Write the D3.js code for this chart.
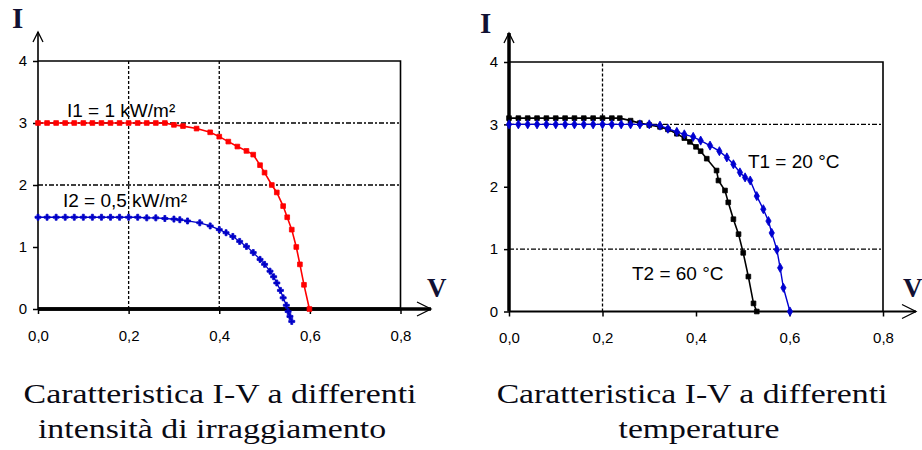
<!DOCTYPE html>
<html>
<head>
<meta charset="utf-8">
<script src="https://cdn.jsdelivr.net/npm/d3@7"></script>
<style>
  body { margin: 0; background: #fff; }
  svg { display: block; }
</style>
</head>
<body>
<div id="chart"></div>
<script>
// tick values, shared by both panels
const xTicks = [0, 0.2, 0.4, 0.6, 0.8];
const yTicks = [0, 1, 2, 3, 4];

// left panel: different irradiance
const seriesI1 = [
    [0, 3], [0.02, 3], [0.04, 3], [0.06, 3], [0.08, 3], [0.1, 3], [0.12, 3], [0.14, 3],
    [0.16, 3], [0.18, 3], [0.2, 3], [0.22, 3], [0.24, 3], [0.26, 3], [0.28, 3],
    [0.3, 2.97], [0.32, 2.95], [0.35, 2.91], [0.38, 2.85], [0.4, 2.78], [0.42, 2.7],
    [0.44, 2.62], [0.46, 2.55], [0.475, 2.49], [0.49, 2.32], [0.5, 2.2], [0.516, 2.0],
    [0.527, 1.88], [0.541, 1.66], [0.55, 1.48], [0.56, 1.28], [0.57, 1.0],
    [0.578, 0.72], [0.587, 0.39], [0.599, 0]
];
const seriesI2 = [
    [0, 1.48], [0.02, 1.48], [0.04, 1.48], [0.06, 1.48], [0.08, 1.48], [0.1, 1.48],
    [0.12, 1.48], [0.14, 1.48], [0.16, 1.48], [0.18, 1.48], [0.2, 1.48], [0.22, 1.48],
    [0.24, 1.47], [0.26, 1.47], [0.28, 1.46], [0.3, 1.45],
    [0.313, 1.44], [0.33, 1.42], [0.357, 1.39], [0.38, 1.34], [0.4, 1.28], [0.415, 1.23],
    [0.43, 1.17], [0.445, 1.09], [0.46, 1.01], [0.475, 0.91], [0.49, 0.8], [0.5, 0.72],
    [0.512, 0.61], [0.52, 0.52], [0.527, 0.42], [0.535, 0.3], [0.541, 0.18],
    [0.548, 0.06], [0.552, -0.04], [0.556, -0.12], [0.56, -0.2]
];
const zeroLine = [[0, 0], [0.8, 0]];

// right panel: different temperature
const seriesT2 = [
    [0, 3.1], [0.02, 3.1], [0.04, 3.1], [0.06, 3.1], [0.08, 3.1], [0.1, 3.1], [0.12, 3.1],
    [0.14, 3.1], [0.16, 3.1], [0.18, 3.1], [0.2, 3.1], [0.22, 3.1],
    [0.237, 3.1], [0.26, 3.06], [0.28, 3.02], [0.3, 2.99], [0.323, 2.96], [0.34, 2.92],
    [0.359, 2.85], [0.375, 2.78], [0.387, 2.72], [0.4, 2.64], [0.41, 2.57], [0.423, 2.45],
    [0.444, 2.26], [0.448, 2.1], [0.462, 1.94], [0.469, 1.75], [0.48, 1.48], [0.491, 1.24],
    [0.501, 0.94], [0.512, 0.56], [0.523, 0.13], [0.53, 0]
];
const seriesT1 = [
    [0, 3], [0.02, 3], [0.04, 3], [0.06, 3], [0.08, 3], [0.1, 3], [0.12, 3], [0.14, 3],
    [0.16, 3], [0.18, 3], [0.2, 3], [0.22, 3], [0.24, 3], [0.26, 3], [0.28, 3], [0.3, 3],
    [0.323, 2.98], [0.34, 2.93], [0.359, 2.88], [0.375, 2.84], [0.394, 2.8], [0.41, 2.74],
    [0.43, 2.66], [0.45, 2.57], [0.466, 2.47], [0.48, 2.36], [0.494, 2.23], [0.505, 2.15],
    [0.516, 2.1], [0.53, 1.85], [0.544, 1.64], [0.555, 1.45], [0.562, 1.26], [0.573, 0.99],
    [0.58, 0.7], [0.587, 0.38], [0.601, 0]
];

// curve labels: [text, V, I]
const labelsLeft = [["I1 = 1 kW/m²", 0.064, 3.1], ["I2 = 0,5 kW/m²", 0.055, 1.65]];
const labelsRight = [["T1 = 20 °C", 0.511, 2.3], ["T2 = 60 °C", 0.263, 0.5]];

const titlesLeft = ["Caratteristica I-V a differenti", "intensità di irraggiamento"];
const titlesRight = ["Caratteristica I-V a differenti", "temperature"];

const itLocale = d3.formatLocale({ decimal: ",", thousands: ".", grouping: [3], currency: ["", "€"] });
const fmtX = itLocale.format(".1f");

const svg = d3.select("#chart")
    .append("svg")
    .attr("width", 922)
    .attr("height", 450);

const drawPanel = (cfg) => {
    const x = d3.scaleLinear().domain([0, 0.8]).range([cfg.left, cfg.right]);
    const y = d3.scaleLinear().domain([0, 4]).range([cfg.bottom, cfg.top]);
    const g = svg.append("g").attr("class", cfg.name);

    // grid
    g.selectAll(".hgrid")
        .data(cfg.hGrid)
        .enter()
        .append("line")
        .attr("x1", x(0)).attr("x2", x(0.8))
        .attr("y1", (d) => y(d)).attr("y2", (d) => y(d))
        .attr("stroke", "#000")
        .attr("stroke-width", 1.3)
        .attr("stroke-dasharray", "5,2,2,2");

    g.selectAll(".vgrid")
        .data(cfg.vGrid)
        .enter()
        .append("line")
        .attr("x1", (d) => x(d)).attr("x2", (d) => x(d))
        .attr("y1", y(0)).attr("y2", y(4))
        .attr("stroke", "#000")
        .attr("stroke-width", 1.3)
        .attr("stroke-dasharray", "3,2");

    // frame top and right
    g.append("path")
        .attr("d", `M${x(0)},${y(4)}H${x(0.8)}V${y(0)}`)
        .attr("fill", "none")
        .attr("stroke", "#000")
        .attr("stroke-width", 1.6);

    // axes with ticks
    const xAxis = g.append("g")
        .attr("transform", `translate(0,${y(0)})`)
        .call(d3.axisBottom(x).tickValues(xTicks).tickFormat(fmtX).tickSize(5).tickPadding(16));
    const yAxis = g.append("g")
        .attr("transform", `translate(${x(0)},0)`)
        .call(d3.axisLeft(y).tickValues(yTicks).tickFormat(d3.format("d")).tickSize(5).tickPadding(6));
    [xAxis, yAxis].forEach((a) => {
        a.select(".domain").remove();
        a.selectAll(".tick line").attr("stroke", "#000").attr("stroke-width", 1.5);
        a.selectAll(".tick text")
            .attr("fill", "#000")
            .style("font-family", "'Liberation Sans', Arial, sans-serif")
            .style("font-size", "15px");
    });

    // axis lines with arrows
    g.append("line")
        .attr("x1", x(0)).attr("x2", cfg.arrowX)
        .attr("y1", y(0)).attr("y2", y(0))
        .attr("stroke", "#000")
        .attr("stroke-width", cfg.xAxisWidth);
    g.append("path")
        .attr("d", `M${cfg.arrowX - 14},${y(0) - 7}L${cfg.arrowX},${y(0)}L${cfg.arrowX - 14},${y(0) + 7}`)
        .attr("fill", "none")
        .attr("stroke", "#000")
        .attr("stroke-width", 1.3);
    g.append("line")
        .attr("x1", x(0)).attr("x2", x(0))
        .attr("y1", y(0)).attr("y2", cfg.arrowY)
        .attr("stroke", "#000")
        .attr("stroke-width", cfg.yAxisWidth);
    g.append("path")
        .attr("d", `M${x(0) - 5},${cfg.arrowY + 10}L${x(0)},${cfg.arrowY}L${x(0) + 5},${cfg.arrowY + 10}`)
        .attr("fill", "none")
        .attr("stroke", "#000")
        .attr("stroke-width", 1.3);

    // series
    const line = d3.line().x((d) => x(d[0])).y((d) => y(d[1]));
    cfg.series.forEach((s) => {
        g.append("path")
            .datum(s.data)
            .attr("d", line)
            .attr("fill", "none")
            .attr("stroke", s.color)
            .attr("stroke-width", s.width);
        if (s.marker) {
            g.append("g")
                .selectAll("path")
                .data(s.data)
                .enter()
                .append("path")
                .attr("transform", (d) => `translate(${x(d[0])},${y(d[1])})`)
                .attr("d", d3.symbol().type(s.marker).size(s.size))
                .attr("fill", s.color)
                .attr("stroke", s.color)
                .attr("stroke-width", 0.8);
        }
    });

    // curve labels
    g.selectAll(".curve-label")
        .data(cfg.labels)
        .enter()
        .append("text")
        .attr("x", (d) => x(d[1]))
        .attr("y", (d) => y(d[2]))
        .attr("fill", "#000")
        .style("font-family", "'Liberation Sans', Arial, sans-serif")
        .style("font-size", "19px")
        .text((d) => d[0]);

    // axis names
    g.append("text")
        .attr("x", cfg.iPos[0]).attr("y", cfg.iPos[1])
        .attr("fill", "#111133")
        .style("font-family", "'Liberation Serif', 'Times New Roman', serif")
        .style("font-weight", "bold")
        .style("font-size", "29px")
        .text("I");
    g.append("text")
        .attr("x", cfg.vPos[0]).attr("y", cfg.vPos[1])
        .attr("fill", "#111133")
        .style("font-family", "'Liberation Serif', 'Times New Roman', serif")
        .style("font-weight", "bold")
        .style("font-size", "27px")
        .text("V");

    // caption: widened evenly so the first line spans the same width as the original
    const captions = g.selectAll(".caption")
        .data(cfg.titles)
        .enter()
        .append("text")
        .attr("class", "caption")
        .attr("text-anchor", "middle")
        .attr("fill", "#0a0a14")
        .style("font-family", "'Liberation Serif', 'Times New Roman', serif")
        .style("font-size", "28px")
        .text((d) => d);
    const stretch = cfg.titleW / captions.node().getComputedTextLength();
    captions.attr("transform", (d, i) => `translate(${cfg.titleX[i]},${403 + i * 35}) scale(${stretch},1)`);
};

drawPanel({
    name: "left-panel",
    left: 38, right: 400.5, top: 61, bottom: 309,
    arrowX: 431, arrowY: 32,
    xAxisWidth: 3.5, yAxisWidth: 1.6,
    hGrid: [2, 3], vGrid: [0.2, 0.4],
    series: [
        { data: zeroLine, color: "#000", width: 3.5 },
        { data: seriesI1, color: "#ff0000", width: 1.6, marker: d3.symbolSquare, size: 22 },
        { data: seriesI2, color: "#0000c8", width: 1.3, marker: d3.symbolCross, size: 20 }
    ],
    labels: labelsLeft,
    iPos: [12, 28], vPos: [427, 297],
    titles: titlesLeft, titleX: [220, 212], titleW: 393
});

drawPanel({
    name: "right-panel",
    left: 509, right: 883, top: 62, bottom: 311.5,
    arrowX: 916, arrowY: 33,
    xAxisWidth: 2, yAxisWidth: 3.5,
    hGrid: [1, 3], vGrid: [0.2],
    series: [
        { data: seriesT2, color: "#000", width: 1.6, marker: d3.symbolSquare, size: 22 },
        { data: seriesT1, color: "#0000d0", width: 1.4, marker: d3.symbolDiamond, size: 24 }
    ],
    labels: labelsRight,
    iPos: [480, 33], vPos: [903, 297],
    titles: titlesRight, titleX: [692, 699], titleW: 391
});
</script>
</body>
</html>
